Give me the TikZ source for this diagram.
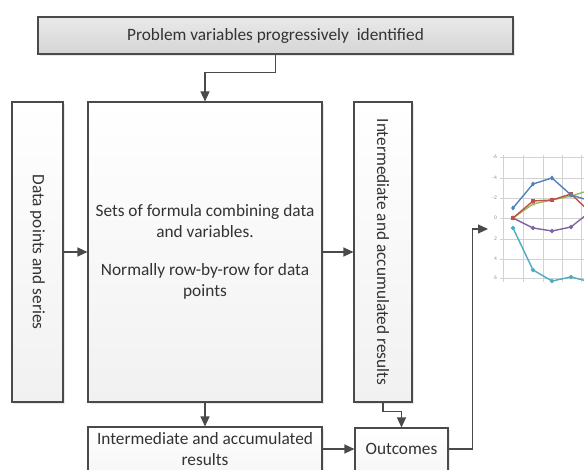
\documentclass[tikz,border=0pt]{standalone}
\usepackage{fontspec}
\setmainfont{Carlito}
\usetikzlibrary{arrows.meta,shadows,calc,plotmarks}
\definecolor{edge}{HTML}{4A4A4A}
\definecolor{txt}{HTML}{333333}
\definecolor{sblue}{HTML}{4F81BD}
\definecolor{sred}{HTML}{C0504D}
\definecolor{sgreen}{HTML}{9BBB59}
\definecolor{spurple}{HTML}{8064A2}
\definecolor{scyan}{HTML}{4BACC6}
\begin{document}
\begin{tikzpicture}[x=1pt,y=-1pt,
  box/.style={draw=edge,line width=1.1pt,top color=white,bottom color=gray!11,
    drop shadow={shadow xshift=2pt,shadow yshift=-2pt,opacity=0.18},inner sep=0pt},
  graybox/.style={box,top color=gray!17,bottom color=gray!33},
  lbl/.style={text=txt,font=\fontsize{17.3}{21.5}\selectfont,align=center,inner sep=0pt},
  arr/.style={draw=edge,line width=1.1pt,-{Triangle[length=10pt,width=9pt]}},
  grid/.style={draw=gray!35,line width=0.6pt},
  tick/.style={text=gray!85,font=\fontsize{5.5}{6}\selectfont,inner sep=0pt},
  series/.style={line width=1.4pt,mark size=1.4pt}
]
\useasboundingbox (0,0) rectangle (584,470);
\clip (0,0) rectangle (584,470);
\fill[white] (0,0) rectangle (584,470);

% boxes
\node[graybox,minimum width=475pt,minimum height=37pt] (top) at (275.5,35.5) {};
\node[lbl] (topt) at (top.center) {Problem variables progressively~ identified};

\node[box,minimum width=51pt,minimum height=300pt] (left) at (37.5,252) {};
\node[lbl,rotate=-90] (leftt) at (left.center) {Data points and series};

\node[box,minimum width=234pt,minimum height=300pt] (main) at (205,252) {};
\node[lbl] (maint) at (main.center) {Sets of formula combining data\\and variables.\\[16pt]Normally row-by-row for data\\points};

\node[box,minimum width=58pt,minimum height=300pt] (right) at (383,252) {};
\node[lbl,rotate=-90] (rightt) at (right.center) {Intermediate and accumulated results};

\node[box,minimum width=234pt,minimum height=70pt] (bot) at (205,462) {};
\node[lbl] (bott) at (205,449) {Intermediate and accumulated\\results};

\node[box,minimum width=93pt,minimum height=70pt] (out) at (401.5,463) {};
\node[lbl] (outt) at (401.5,449) {Outcomes};

\coordinate (tip) at (488,229);

% connectors
\draw[arr] (top.south) -- ++(0,18) -| (main.north);
\draw[arr] (left.east) -- (main.west);
\draw[arr] (main.east) -- (right.west);
\draw[arr] (main.south) -- (bot.north);
\draw[arr] (bot.east |- outt) -- (out.west |- outt);
\draw[arr] (right.south) -- ++(0,9) -| (out.north);
\draw[arr] (out.east |- outt) -- ++(24,0) |- (tip);

% chart
\foreach \x in {503,523,543,562,581} \draw[grid] (\x,155) -- (\x,282);
\foreach \y/\t in {157/-6,178/-4,198/-2,218/0,239/2,259/4,278/6} {
  \draw[grid] (500,\y) -- (584,\y);
  \node[tick,anchor=east] (t\y) at (497,\y) {\t};
}
\draw[series,scyan,mark=*] plot coordinates {(513,228) (533,270) (552,281) (571,277) (591,282)};
\draw[series,spurple,mark=*] plot coordinates {(513,218) (533,228) (552,231) (571,227) (591,211)};
\draw[series,sgreen,mark=triangle*] plot coordinates {(513,218) (533,204) (552,200) (571,196) (591,190)};
\draw[series,sred,mark=square*] plot coordinates {(513,218) (533,201) (552,200) (571,194) (591,213)};
\draw[series,sblue,mark=diamond*] plot coordinates {(513,208) (533,184) (552,178) (571,195) (591,201)};
\end{tikzpicture}
\end{document}
